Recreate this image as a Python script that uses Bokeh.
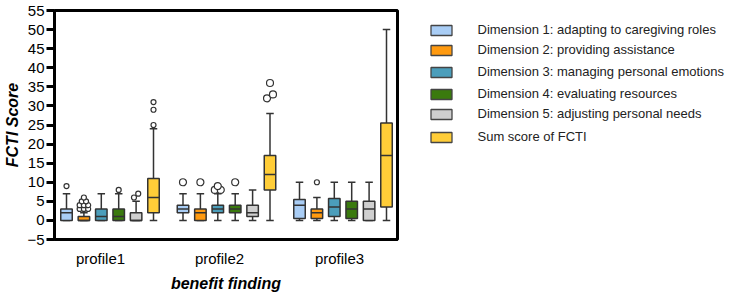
from bokeh.plotting import figure
from bokeh.models import Range1d, FixedTicker, ColumnDataSource
from bokeh.layouts import row
from bokeh.embed import file_html
from bokeh.resources import INLINE
from bokeh.core.properties import value

# ---------------- data ----------------
profiles = ["profile1", "profile2", "profile3"]
series_names = [
    "Dimension 1: adapting to caregiving roles",
    "Dimension 2: providing assistance",
    "Dimension 3: managing personal emotions",
    "Dimension 4: evaluating resources",
    "Dimension 5: adjusting personal needs",
    "Sum score of FCTI",
]
colors = ["#A9CDF5", "#FF9A10", "#4B9EBB", "#3A7A0E", "#CFCFCF", "#FFCD38"]

# rows: series (D1..D5, Sum); columns: profile1, profile2, profile3
whisker_low = [[0, 0, 0], [0, 0, 0], [0, 0, 0], [0, 0, 0], [0, 0, 0], [0, 0, 0]]
q1 = [[0, 2, 0.5], [0, 0, 0.5], [0, 2, 1], [0, 2, 0.5], [0, 1, 0], [2, 8, 3.5]]
median = [[2, 3, 4], [0, 2, 2], [1, 3, 3.5], [1, 3, 3], [0, 2, 3], [6, 12, 17]]
q3 = [[3, 4, 5.5], [1, 3, 3], [3, 4, 5.75], [3, 4, 5], [2, 4, 5], [11, 17, 25.5]]
whisker_high = [[7, 7, 10], [2, 7, 6], [7, 7, 10], [7, 7, 10], [5, 8, 10], [24, 28, 50]]
outliers = [
    [[9], [10], []],
    [[3, 3, 3, 4, 4, 4, 5, 5, 6], [10], [10]],
    [[], [8, 8, 9], []],
    [[8], [10], []],
    [[6, 7], [], []],
    [[25, 29, 31], [32, 33, 36], []],
]
y_ticks = list(range(-5, 56, 5))

# ---------------- layout constants (pixels) ----------------
FONT = "Liberation Sans"
LEFT, TOP = 54, 10
FRAME_W, FRAME_H = 343, 229
RIGHT_PAD = 3
G_PX = 116.5          # distance between profile groups
D_PX = 17.4           # distance between boxes in a group
BOX_PX = 11.5
CAP_PX = 7.5
Y0, Y1 = -5, 55
PX_PER_Y = FRAME_H / (Y1 - Y0)
first_center_px = 55.5
label_px = [46, 165, 285]
outlier_size = [5, 7, 5]

x_start = -first_center_px / G_PX
x_end = x_start + FRAME_W / G_PX
box_w = BOX_PX / G_PX
cap_w = CAP_PX / G_PX

p = figure(frame_width=FRAME_W, frame_height=FRAME_H, output_backend="svg", toolbar_location=None,
           x_range=Range1d(x_start, x_end), y_range=Range1d(Y0, Y1),
           min_border_left=LEFT, min_border_right=RIGHT_PAD, min_border_top=TOP,
           min_border_bottom=293 - TOP - FRAME_H)
p.xgrid.visible = False
p.ygrid.visible = False
p.outline_line_color = "black"
p.outline_line_width = 3
p.background_fill_color = "white"
p.border_fill_color = "white"


def spread(vals, size):
    """horizontal pixel offsets for outliers so that overlapping circles sit side by side"""
    vals = sorted(vals)
    step = size * 0.85
    res = []
    i = 0
    while i < len(vals):
        j = i
        while j + 1 < len(vals) and (vals[j + 1] - vals[j]) * PX_PER_Y < size:
            j += 1
        cl = vals[i:j + 1]
        if len(set(cl)) == len(cl):
            for k, v in enumerate(cl):
                off = 0 if len(cl) == 1 else (-step / 2 if k % 2 == 0 else step / 2)
                res.append((v, off))
        else:
            for v in sorted(set(cl)):
                n = cl.count(v)
                for k in range(n):
                    res.append((v, (k - (n - 1) / 2) * step))
        i = j + 1
    return res


box_src = dict(x=[], bottom=[], top=[], color=[])
seg = dict(x0=[], y0=[], x1=[], y1=[])
med = dict(x0=[], y0=[], x1=[], y1=[])
out = dict(x=[], y=[], size=[])

for s in range(len(series_names)):
    for g in range(len(profiles)):
        xc = g + (s - 2.5) * D_PX / G_PX
        box_src["x"].append(xc)
        box_src["bottom"].append(q1[s][g])
        box_src["top"].append(q3[s][g])
        box_src["color"].append(colors[s])
        for a, b in ((whisker_low[s][g], q1[s][g]), (q3[s][g], whisker_high[s][g])):
            seg["x0"].append(xc); seg["y0"].append(a); seg["x1"].append(xc); seg["y1"].append(b)
        for v in (whisker_low[s][g], whisker_high[s][g]):
            seg["x0"].append(xc - cap_w / 2); seg["y0"].append(v)
            seg["x1"].append(xc + cap_w / 2); seg["y1"].append(v)
        med["x0"].append(xc - box_w / 2); med["x1"].append(xc + box_w / 2)
        med["y0"].append(median[s][g]); med["y1"].append(median[s][g])
        size = outlier_size[g]
        for v, ox in spread(outliers[s][g], size):
            out["x"].append(xc + ox / G_PX)
            out["y"].append(v)
            out["size"].append(size)

LINE = "#333333"
p.segment(x0="x0", y0="y0", x1="x1", y1="y1", source=ColumnDataSource(seg),
          line_color=LINE, line_width=1.5)
p.vbar(x="x", width=box_w, bottom="bottom", top="top", fill_color="color",
       line_color=LINE, line_width=1.5, source=ColumnDataSource(box_src))
p.segment(x0="x0", y0="y0", x1="x1", y1="y1", source=ColumnDataSource(med),
          line_color=LINE, line_width=1.5)
p.scatter(x="x", y="y", size="size", source=ColumnDataSource(out), marker="circle",
          fill_color="white", line_color=LINE, line_width=1.2)

# y axis
p.yaxis.ticker = FixedTicker(ticks=y_ticks)
p.yaxis.axis_line_width = 3
p.yaxis.axis_line_color = "black"
p.yaxis.major_tick_line_width = 3
p.yaxis.major_tick_line_color = "black"
p.yaxis.major_tick_out = 8
p.yaxis.major_tick_in = 0
p.yaxis.minor_tick_line_color = None
p.yaxis.major_label_standoff = 2
p.yaxis.major_label_text_font = FONT
p.yaxis.major_label_text_font_size = "15px"
p.yaxis.major_label_text_color = "black"
p.yaxis.axis_label = "FCTI Score"
p.yaxis.axis_label_text_font = FONT
p.yaxis.axis_label_text_font_size = "16px"
p.yaxis.axis_label_text_font_style = "bold italic"
p.yaxis.axis_label_text_color = "black"
p.yaxis.axis_label_standoff = 3

# x axis
tick_vals = [(lp - first_center_px) / G_PX for lp in label_px]
p.xaxis.ticker = FixedTicker(ticks=tick_vals)
p.xaxis.major_label_overrides = {t: name for t, name in zip(tick_vals, profiles)}
p.xaxis.axis_line_width = 3
p.xaxis.axis_line_color = "black"
p.xaxis.major_tick_line_color = None
p.xaxis.minor_tick_line_color = None
p.xaxis.major_tick_out = 0
p.xaxis.major_tick_in = 0
p.xaxis.major_label_standoff = 10
p.xaxis.major_label_text_font = FONT
p.xaxis.major_label_text_font_size = "15px"
p.xaxis.major_label_text_color = "black"
p.xaxis.axis_label = "benefit finding"
p.xaxis.axis_label_text_font = FONT
p.xaxis.axis_label_text_font_size = "16px"
p.xaxis.axis_label_text_font_style = "bold italic"
p.xaxis.axis_label_text_color = "black"
p.xaxis.axis_label_standoff = 5

# ---------------- legend panel (coordinates = page pixels) ----------------
MAIN_W = LEFT + FRAME_W + RIGHT_PAD
LW = 733 - MAIN_W
leg = figure(frame_width=LW, frame_height=FRAME_H, output_backend="svg", toolbar_location=None,
             x_range=Range1d(MAIN_W, 733), y_range=Range1d(TOP + FRAME_H, TOP),
             x_axis_location=None, y_axis_location=None,
             min_border_left=0, min_border_right=0, min_border_top=TOP,
             min_border_bottom=293 - TOP - FRAME_H)
leg.xgrid.visible = False
leg.ygrid.visible = False
leg.outline_line_color = None
leg.border_fill_color = "white"
leg_y = [30, 50, 72, 94, 114, 137]
leg.rect(x=[441] * len(series_names), y=leg_y, width=21, height=10,
         fill_color=colors, line_color="#444444", line_width=1.3)
leg.text(x=[477] * len(series_names), y=[v - 1 for v in leg_y], text=series_names,
         text_font=value(FONT), text_font_size="13px", text_color="#222222",
         text_baseline="middle", text_align="left")

layout = row(p, leg)
open("out.html", "w").write(file_html(layout, INLINE))
